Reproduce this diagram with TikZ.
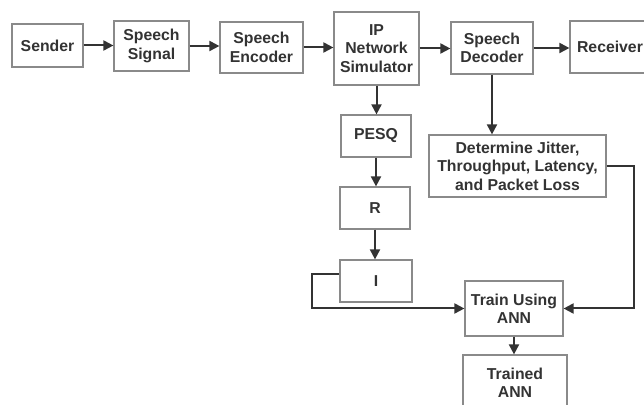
\documentclass[tikz,border=0pt]{standalone}
\usepackage{fontspec}
\setmainfont{Liberation Sans}
\usetikzlibrary{arrows.meta,calc}
\definecolor{txt}{HTML}{333333}
\definecolor{boxline}{HTML}{8A8A8A}
\definecolor{arr}{HTML}{333333}
\begin{document}
\begin{tikzpicture}[x=0.5pt,y=-0.5pt,
  blk/.style={draw=boxline,line width=0.6pt,fill=white,inner sep=0pt,align=center,
    text=txt,font=\fontsize{7.9}{9.2}\selectfont\bfseries},
  conn/.style={draw=arr,line width=1pt,-{Triangle[length=5pt,width=5pt]}},
  plain/.style={draw=arr,line width=1pt}]
\useasboundingbox (0,0) rectangle (644,405);
\clip (0,0) rectangle (644,405);
\node[blk,minimum width=35.5pt,minimum height=21.5pt] (sender) at (47.5,45.5) {Sender};
\node[blk,minimum width=37.5pt,minimum height=25pt] (signal) at (151.5,46) {Speech\\Signal};
\node[blk,minimum width=41.5pt,minimum height=25.5pt] (enc) at (261.5,47.5) {Speech\\Encoder};
\node[blk,minimum width=42.5pt,minimum height=36.5pt] (ip) at (376.5,48.5) {IP\\Network\\Simulator};
\node[blk,minimum width=41pt,minimum height=26pt] (dec) at (492,48) {Speech\\Decoder};
\node[blk,minimum width=40pt,minimum height=26pt] (rec) at (610,47) {Receiver};
\node[blk,minimum width=35pt,minimum height=21pt] (pesq) at (376,136) {PESQ};
\node[blk,minimum width=35pt,minimum height=21pt] (r) at (375,208) {R};
\node[blk,minimum width=36pt,minimum height=21pt] (i) at (376,281) {I};
\node[blk,minimum width=88.5pt,minimum height=31pt] (det) at (517.5,166) {Determine Jitter,\\Throughput, Latency,\\and Packet Loss};
\node[blk,minimum width=49pt,minimum height=27.5pt] (train) at (514,308.5) {Train Using\\ANN};
\node[blk,minimum width=52pt,minimum height=27.5pt] (trained) at (515,382.5) {Trained\\ANN};
\coordinate (c1) at (634,308.5);
\coordinate (fb) at (312,308.5);
\draw[conn] (sender.east) -- (sender.east -| signal.west);
\draw[conn] (signal.east) -- (signal.east -| enc.west);
\draw[conn] (enc.east) -- (enc.east -| ip.west);
\draw[conn] (ip.east) -- (ip.east -| dec.west);
\draw[conn] (dec.east) -- (dec.east -| rec.west);
\draw[conn] (ip.south) -- (ip.south |- pesq.north);
\draw[conn] (pesq.south) -- (pesq.south |- r.north);
\draw[conn] (r.south) -- (r.south |- i.north);
\draw[conn] (dec.south) -- (dec.south |- det.north);
\draw[conn] (det.east) -| (c1) -- (train.east);
\draw[conn] ([yshift=3.5pt]i.west) -| (fb) -- (train.west);
\draw[conn] (train.south) -- (train.south |- trained.north);
\end{tikzpicture}
\end{document}
